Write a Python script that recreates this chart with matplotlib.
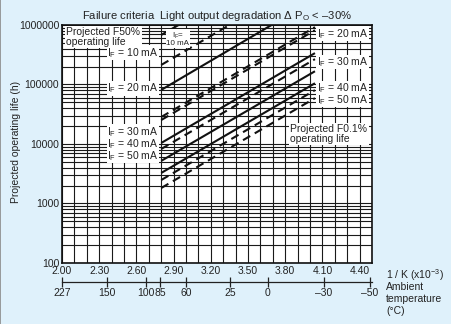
import numpy as np
import matplotlib
matplotlib.use("Agg")
import matplotlib.pyplot as plt
from matplotlib.ticker import MultipleLocator, LogLocator, NullFormatter, FixedLocator
from matplotlib.lines import Line2D

plt.rcParams['font.family'] = ['Liberation Sans', 'DejaVu Sans']
plt.rcParams['mathtext.fontset'] = 'custom'
plt.rcParams['mathtext.rm'] = 'Liberation Sans'
plt.rcParams['mathtext.it'] = 'Liberation Sans:italic'

# lines: 1/K (x10^-3) at start/end, life (h) at start/end
# solid = projected F50% life, IF = 10, 20, 30, 40, 50 mA
solid_x0 = [2.80, 2.80, 2.80, 2.80, 2.80]
solid_x1 = [2.94, 3.69, 4.04, 4.04, 4.04]
solid_life0 = [6.8e5, 8.1e4, 1.04e4, 5.2e3, 3.26e3]
solid_life1 = [1.0e6, 1.0e6, 3.37e5, 1.67e5, 1.05e5]

# dashed = projected F0.1% life
dash_x0 = [2.80, 2.80, 2.80, 2.80, 2.80, 2.80]
dash_x1 = [3.35, 4.04, 4.04, 4.04, 4.04, 4.04]
dash_life0 = [2.13e5, 2.84e4, 2.53e4, 8.24e3, 2.48e3, 1.82e3]
dash_life1 = [1.0e6, 9.2e5, 8.18e5, 2.67e5, 8.04e4, 5.9e4]

x_ticks = [2.00, 2.30, 2.60, 2.90, 3.20, 3.50, 3.80, 4.10, 4.40]
y_ticks = [100, 1000, 10000, 100000, 1000000]
temp_ticks = [226.85, 150, 100, 85, 60, 25, 0, -30, -50]
temp_labels = ['227', '150', '100', '85', '60', '25', '0', '\u201330', '\u201350']

left_labels = ['10', '20', '30', '40', '50']
left_label_life = [3.4e5, 8.7e4, 1.6e4, 1.0e4, 6.3e3]
right_labels = ['20', '30', '40', '50']
right_label_life = [7.1e5, 2.39e5, 8.7e4, 5.5e4]

bg = '#dff1fb'
ink = '#222222'
fs = 7.5

fig = plt.figure(figsize=(4.52, 3.24), dpi=100)
fig.patch.set_facecolor(bg)
ax = fig.add_axes([62 / 452, 61 / 324, 310 / 452, 238 / 324])
ax.set_facecolor('white')

ax.set_yscale('log')
ax.set_xlim(2.0, 4.5)
ax.set_ylim(100, 1e6)

ax.xaxis.set_major_locator(FixedLocator(x_ticks))
ax.set_xticklabels(['%.2f' % v for v in x_ticks])
ax.xaxis.set_minor_locator(MultipleLocator(0.1))
ax.yaxis.set_major_locator(FixedLocator(y_ticks))
ax.set_yticklabels([str(v) for v in y_ticks])
ax.yaxis.set_minor_locator(LogLocator(base=10, subs=np.arange(2, 10)))
ax.yaxis.set_minor_formatter(NullFormatter())

ax.grid(which='both', color='#1a1a1a', linewidth=0.8)
ax.set_axisbelow(True)
ax.tick_params(which='both', length=0, labelsize=fs, colors=ink, pad=2)
for s in ax.spines.values():
    s.set_linewidth(1.2)
    s.set_color('#111111')

for x0, x1, l0, l1 in zip(solid_x0, solid_x1, solid_life0, solid_life1):
    ax.plot([x0, x1], [l0, l1], color='#111111', lw=1.5, solid_capstyle='butt')
for x0, x1, l0, l1 in zip(dash_x0, dash_x1, dash_life0, dash_life1):
    ax.plot([x0, x1], [l0, l1], color='#111111', lw=1.5, dashes=(4, 2.5))

box = dict(boxstyle='square,pad=0.05', facecolor='white', edgecolor='none')

for lab, life in zip(left_labels, left_label_life):
    ax.text(2.78, life, 'I$_{\\mathrm{F}}$ = %s mA' % lab, ha='right', va='center',
            fontsize=fs, color=ink, bbox=box)
for lab, life in zip(right_labels, right_label_life):
    ax.text(4.055, life, 'I$_{\\mathrm{F}}$ = %s mA' % lab, ha='left', va='center',
            fontsize=fs, color=ink, bbox=box)

ax.text(2.935, 5.8e5, 'I$_{\\mathrm{F}}$=\n10 mA', ha='center', va='center',
        fontsize=5.8, color=ink, linespacing=0.9, bbox=box)
ax.text(2.035, 6.3e5, 'Projected F50%\noperating life', ha='left', va='center',
        fontsize=fs, color=ink, linespacing=0.95,
        bbox=dict(boxstyle='square,pad=0.15', facecolor='white', edgecolor='none'))
ax.text(3.84, 1.48e4, 'Projected F0.1%\noperating life', ha='left', va='center',
        fontsize=fs, color=ink, linespacing=0.95,
        bbox=dict(boxstyle='square,pad=0.15', facecolor='white', edgecolor='none'))

ax.set_title('Failure criteria  Light output degradation \u0394 P$_{\\mathrm{O}}$ < \u201330%',
             fontsize=8.1, color=ink, pad=4)

fig.text(16 / 452, 1 - 142 / 324, 'Projected operating life (h)', rotation=90,
         ha='center', va='center', fontsize=fs, color=ink)


def inv_to_c(x):
    with np.errstate(divide='ignore'):
        return 1000.0 / np.asarray(x, dtype=float) - 273.15


def c_to_inv(t):
    with np.errstate(divide='ignore'):
        return 1000.0 / (np.asarray(t, dtype=float) + 273.15)


sec = ax.secondary_xaxis(-0.0786, functions=(inv_to_c, c_to_inv))
sec.set_xticks(temp_ticks, labels=temp_labels)
sec.tick_params(direction='inout', length=7, width=0.9, labelsize=fs, colors=ink, pad=1)
sec.spines['bottom'].set_linewidth(0.9)
sec.spines['bottom'].set_color(ink)

fig.text(386 / 452, 1 - 275 / 324, '1 / K (x10$^{-3}$)', ha='left', va='center',
         fontsize=fs, color=ink)
fig.text(386 / 452, 1 - 282 / 324, 'Ambient\ntemperature\n(\u00b0C)', ha='left', va='top',
         fontsize=fs, color=ink, linespacing=1.25)

fig.add_artist(Line2D([0.001, 0.001], [0, 1], transform=fig.transFigure,
                      color='#8a8a8a', lw=1.2))

fig.savefig('out.png', dpi=100, facecolor=bg)
